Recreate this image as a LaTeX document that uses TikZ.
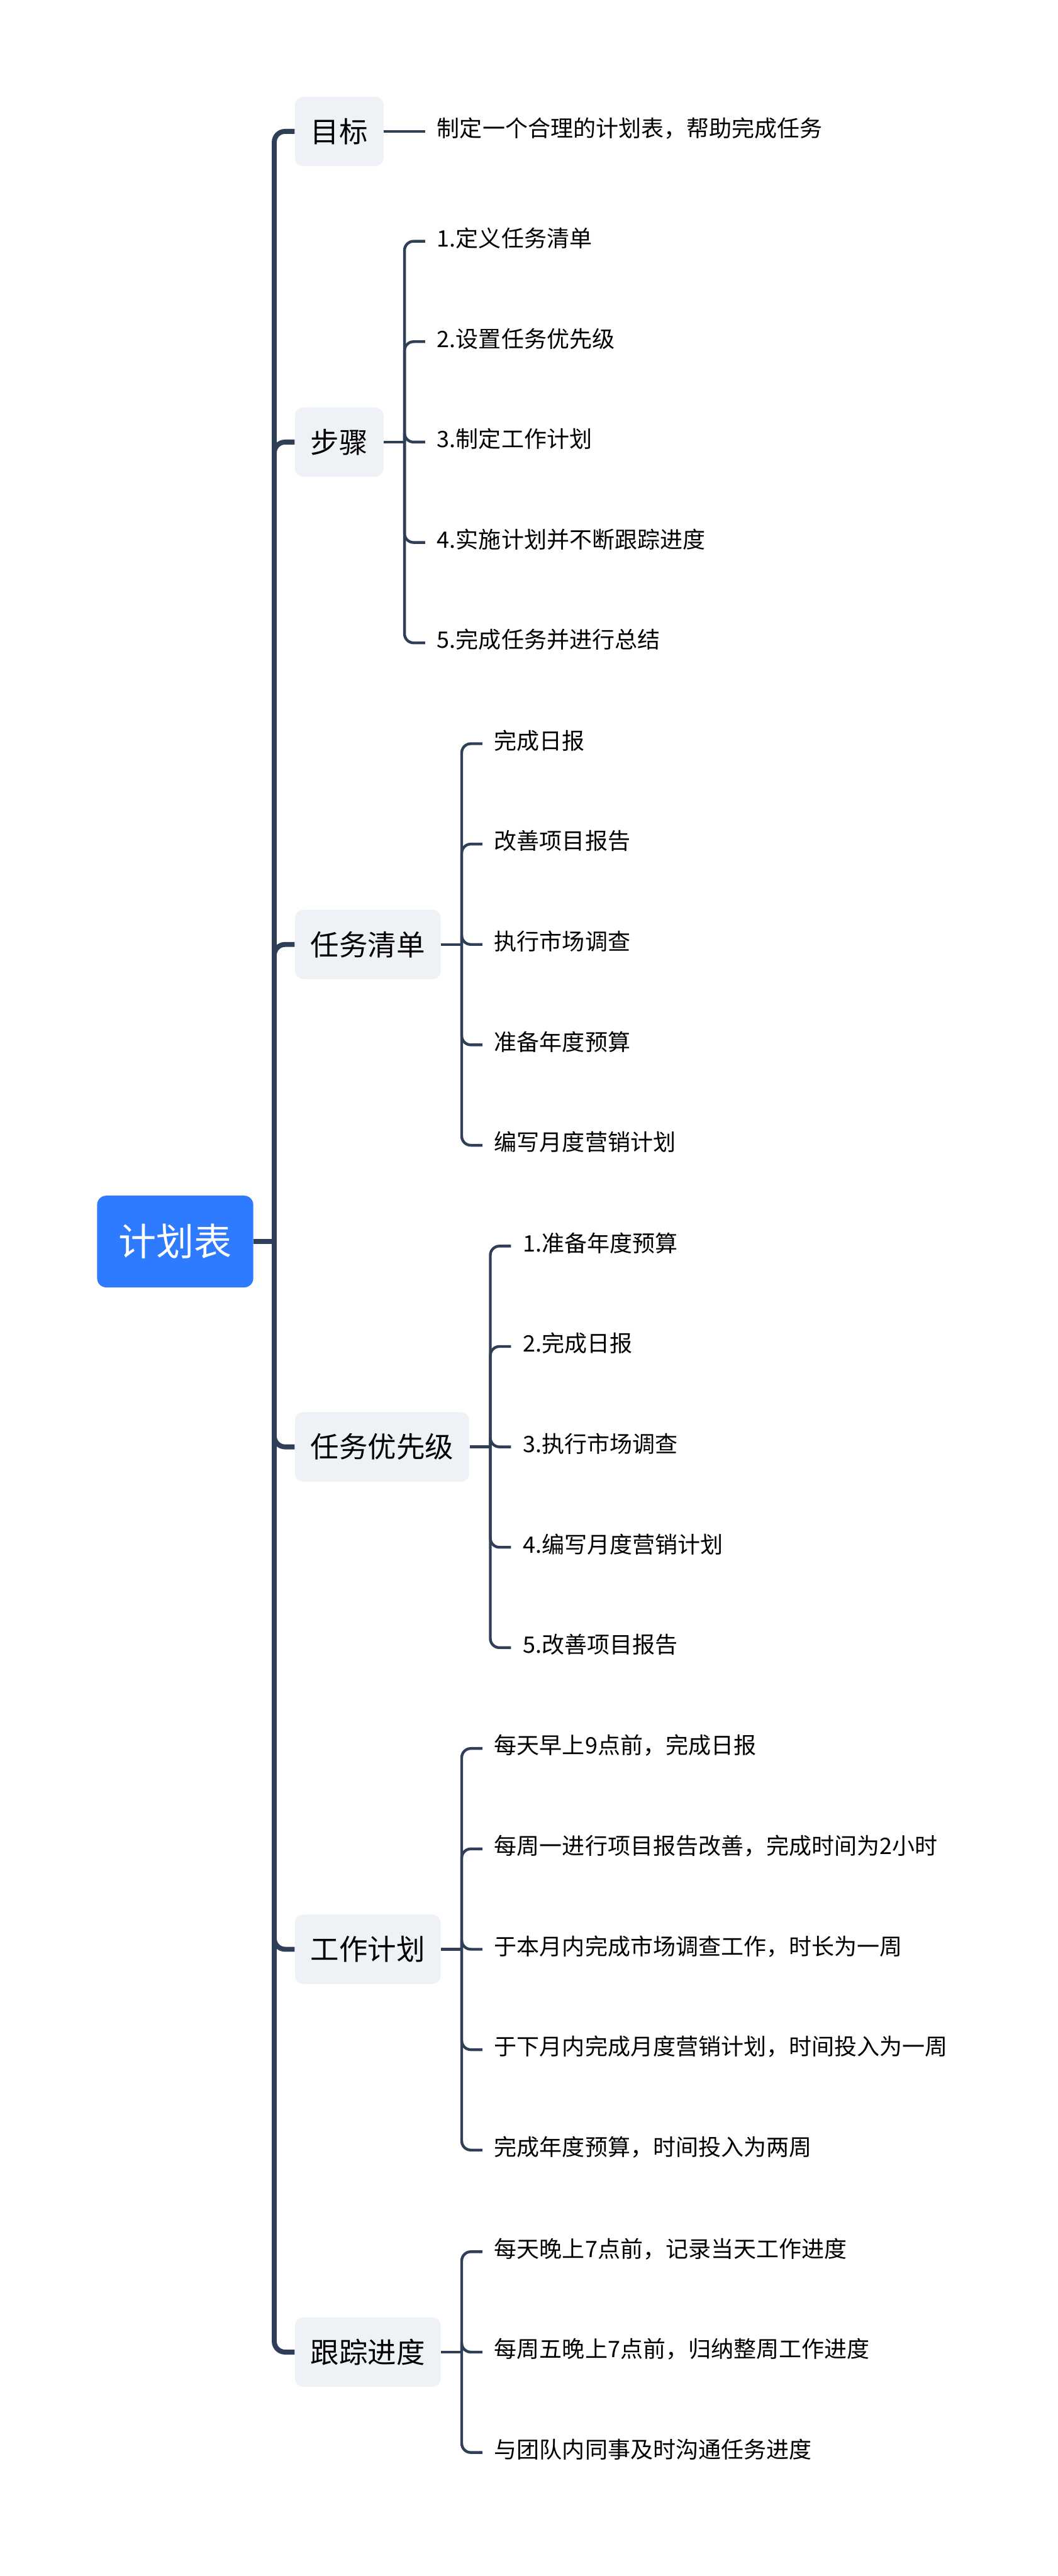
\documentclass[tikz,border=0pt]{standalone}
\usepackage{fontspec}
\setmainfont{Noto Sans CJK SC}
\usepackage{tikz}
\usetikzlibrary{positioning}

\definecolor{linecol}{HTML}{2E3F57}
\definecolor{rootblue}{HTML}{2F7BFF}
\definecolor{topicfill}{HTML}{EEF1F5}

\begin{document}
\begin{tikzpicture}[
    root/.style={rectangle, rounded corners=0.22cm, fill=rootblue, text=white, minimum width=3.78cm, minimum height=2.22cm, font=\fontsize{26pt}{30pt}\selectfont},
    topic/.style={rectangle, rounded corners=0.2cm, fill=topicfill, minimum height=1.68cm, inner xsep=0.38cm, anchor=west, font=\fontsize{19.7pt}{24pt}\selectfont},
    leaf/.style={rectangle, inner xsep=0.29cm, inner ysep=0pt, outer sep=0pt, text height=0.82em, text depth=0.06em, font=\fontsize{15.6pt}{19pt}\selectfont},
    trunk/.style={draw=linecol, line width=0.12cm, rounded corners=0.26cm},
    branch/.style={draw=linecol, line width=0.067cm, rounded corners=0.22cm},
    node distance=1cm
]
\useasboundingbox (0,0) rectangle (25.6,-62.35);

% Root
\node[root] (root) at (4.24,-30.05) {计划表};

% Main topics
\node[topic] (goal) at (7.13,-3.18) {目标};
\node[topic] (step) at (7.13,-10.70) {步骤};
\node[topic] (list) at (7.13,-22.86) {任务清单};
\node[topic] (prio) at (7.13,-35.02) {任务优先级};
\node[topic] (plan) at (7.13,-47.18) {工作计划};
\node[topic] (track) at (7.13,-56.93) {跟踪进度};

% 目标
\node[leaf, right=of goal] (goal1) {制定一个合理的计划表，帮助完成任务};

% 步骤
\node[leaf, right=of step, yshift=4.86cm] (step1) {1.定义任务清单};
\node[leaf, right=of step, yshift=2.43cm] (step2) {2.设置任务优先级};
\node[leaf, right=of step] (step3) {3.制定工作计划};
\node[leaf, right=of step, yshift=-2.43cm] (step4) {4.实施计划并不断跟踪进度};
\node[leaf, right=of step, yshift=-4.86cm] (step5) {5.完成任务并进行总结};

% 任务清单
\node[leaf, right=of list, yshift=4.86cm] (list1) {完成日报};
\node[leaf, right=of list, yshift=2.43cm] (list2) {改善项目报告};
\node[leaf, right=of list] (list3) {执行市场调查};
\node[leaf, right=of list, yshift=-2.43cm] (list4) {准备年度预算};
\node[leaf, right=of list, yshift=-4.86cm] (list5) {编写月度营销计划};

% 任务优先级
\node[leaf, right=of prio, yshift=4.86cm] (prio1) {1.准备年度预算};
\node[leaf, right=of prio, yshift=2.43cm] (prio2) {2.完成日报};
\node[leaf, right=of prio] (prio3) {3.执行市场调查};
\node[leaf, right=of prio, yshift=-2.43cm] (prio4) {4.编写月度营销计划};
\node[leaf, right=of prio, yshift=-4.86cm] (prio5) {5.改善项目报告};

% 工作计划
\node[leaf, right=of plan, yshift=4.86cm] (plan1) {每天早上9点前，完成日报};
\node[leaf, right=of plan, yshift=2.43cm] (plan2) {每周一进行项目报告改善，完成时间为2小时};
\node[leaf, right=of plan] (plan3) {于本月内完成市场调查工作，时长为一周};
\node[leaf, right=of plan, yshift=-2.43cm] (plan4) {于下月内完成月度营销计划，时间投入为一周};
\node[leaf, right=of plan, yshift=-4.86cm] (plan5) {完成年度预算，时间投入为两周};

% 跟踪进度
\node[leaf, right=of track, yshift=2.43cm] (track1) {每天晚上7点前，记录当天工作进度};
\node[leaf, right=of track] (track2) {每周五晚上7点前，归纳整周工作进度};
\node[leaf, right=of track, yshift=-2.43cm] (track3) {与团队内同事及时沟通任务进度};

% Forks
\coordinate (rootfork) at ([xshift=0.5cm]root.east);
\coordinate (stepfork) at ([xshift=0.5cm]step.east);
\coordinate (listfork) at ([xshift=0.5cm]list.east);
\coordinate (priofork) at ([xshift=0.5cm]prio.east);
\coordinate (planfork) at ([xshift=0.5cm]plan.east);
\coordinate (trackfork) at ([xshift=0.5cm]track.east);

% Trunk
\draw[trunk] (root.east) -- (rootfork);
\draw[trunk] (rootfork) |- (goal.west);
\draw[trunk] (rootfork) |- (step.west);
\draw[trunk] (rootfork) |- (list.west);
\draw[trunk] (rootfork) |- (prio.west);
\draw[trunk] (rootfork) |- (plan.west);
\draw[trunk] (rootfork) |- (track.west);

% Branches
\draw[branch] (goal.east) -- (goal1.west);

\draw[branch] (step.east) -- (stepfork);
\draw[branch] (stepfork) |- (step1.west);
\draw[branch] (stepfork) |- (step2.west);
\draw[branch] (stepfork) |- (step3.west);
\draw[branch] (stepfork) |- (step4.west);
\draw[branch] (stepfork) |- (step5.west);

\draw[branch] (list.east) -- (listfork);
\draw[branch] (listfork) |- (list1.west);
\draw[branch] (listfork) |- (list2.west);
\draw[branch] (listfork) |- (list3.west);
\draw[branch] (listfork) |- (list4.west);
\draw[branch] (listfork) |- (list5.west);

\draw[branch] (prio.east) -- (priofork);
\draw[branch] (priofork) |- (prio1.west);
\draw[branch] (priofork) |- (prio2.west);
\draw[branch] (priofork) |- (prio3.west);
\draw[branch] (priofork) |- (prio4.west);
\draw[branch] (priofork) |- (prio5.west);

\draw[branch] (plan.east) -- (planfork);
\draw[branch] (planfork) |- (plan1.west);
\draw[branch] (planfork) |- (plan2.west);
\draw[branch] (planfork) |- (plan3.west);
\draw[branch] (planfork) |- (plan4.west);
\draw[branch] (planfork) |- (plan5.west);

\draw[branch] (track.east) -- (trackfork);
\draw[branch] (trackfork) |- (track1.west);
\draw[branch] (trackfork) |- (track2.west);
\draw[branch] (trackfork) |- (track3.west);
\end{tikzpicture}
\end{document}
